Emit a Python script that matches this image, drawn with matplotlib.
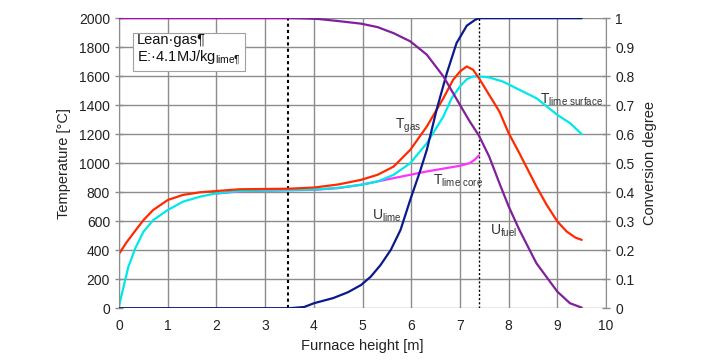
import matplotlib.pyplot as plt

plt.rcParams['font.family'] = ['Liberation Sans', 'DejaVu Sans']
plt.rcParams['lines.solid_joinstyle'] = 'round'
plt.rcParams['lines.solid_capstyle'] = 'round'

# furnace height [m] and temperatures [degC]
gas_x = [0, 0.16, 0.33, 0.5, 0.7, 1.0, 1.31, 1.66, 2.0, 2.48, 3.0, 3.5, 4.0, 4.5, 4.97,
         5.31, 5.64, 5.98, 6.32, 6.66, 6.86, 7.0, 7.14, 7.27, 7.39, 7.6, 7.81, 8.0, 8.22,
         8.57, 8.78, 9.0, 9.19, 9.37, 9.5]
gas_T = [376, 457, 533, 607, 677, 746, 781, 799, 808, 820, 822, 824, 832, 853, 885,
         920, 977, 1092, 1253, 1448, 1575, 1632, 1667, 1644, 1586, 1471, 1356, 1207, 1069,
         839, 713, 598, 529, 487, 471]

surf_x = [0, 0.09, 0.19, 0.33, 0.5, 0.7, 1.0, 1.31, 1.66, 2.0, 2.48, 3.0, 3.5, 4.0, 4.5,
          4.97, 5.31, 5.64, 5.98, 6.32, 6.66, 6.83, 7.0, 7.14, 7.27, 7.39, 7.6, 7.88, 8.22,
          8.57, 9.0, 9.26, 9.5]
surf_T = [15, 145, 284, 411, 527, 607, 677, 734, 769, 792, 808, 812, 815, 818, 830,
          851, 874, 920, 1000, 1138, 1322, 1448, 1529, 1579, 1598, 1598, 1591, 1563, 1506,
          1448, 1333, 1276, 1200]

core_x = [2.0, 2.48, 3.0, 3.5, 4.0, 4.5, 4.97, 5.64, 6.32, 7.0, 7.2, 7.3, 7.39]
core_T = [790, 806, 810, 813, 816, 828, 851, 897, 943, 982, 1000, 1023, 1053]

# conversion degrees [-]
ulime_x = [0, 3.5, 3.8, 4.0, 4.4, 4.7, 4.97, 5.17, 5.37, 5.58, 5.78, 5.98, 6.19, 6.32,
           6.52, 6.73, 6.93, 7.14, 7.31, 7.39, 9.5]
ulime_U = [0, 0, 0.004, 0.017, 0.035, 0.055, 0.08, 0.109, 0.149, 0.201, 0.27, 0.374, 0.477,
           0.546, 0.684, 0.81, 0.914, 0.974, 0.994, 1.0, 1.0]

ufuel_x = [0, 3.5, 3.8, 4.1, 4.5, 4.97, 5.31, 5.64, 5.98, 6.32, 6.66, 7.0, 7.2, 7.39, 7.6,
           7.81, 8.0, 8.22, 8.57, 9.0, 9.26, 9.5]
ufuel_U = [1.0, 1.0, 0.999, 0.997, 0.99, 0.981, 0.969, 0.948, 0.92, 0.874, 0.799, 0.701,
           0.644, 0.595, 0.523, 0.431, 0.351, 0.27, 0.155, 0.057, 0.017, 0.002]

dotted_x = [3.47, 7.39]

fig = plt.figure(figsize=(7.13, 3.63), dpi=100)
ax = fig.add_axes([0.167, 0.151, 0.683, 0.799])
ax2 = ax.twinx()

grid_c = '#8c8c8c'
ax.set_xlim(0, 10)
ax.set_ylim(0, 2000)
ax2.set_ylim(0, 1)
ax.set_xticks(range(0, 11))
ax.set_yticks(range(0, 2001, 200))
ax2.set_yticks([i / 10 for i in range(11)])
ax2.set_yticklabels(['0'] + ['%.1f' % (i / 10) for i in range(1, 10)] + ['1'])
ax.grid(True, color=grid_c, lw=1)
ax.set_axisbelow(True)

for a in (ax, ax2):
    for s in a.spines.values():
        s.set_visible(False)
    a.tick_params(colors=grid_c, labelcolor='#222222', labelsize=10, direction='inout',
                  length=6, width=1)
ax.spines['left'].set_visible(True)
ax.spines['left'].set_color(grid_c)
ax2.spines['right'].set_visible(True)
ax2.spines['right'].set_color(grid_c)
ax.tick_params(axis='x', length=0, pad=8)

for xd, lw in zip(dotted_x, [1.5, 1.0]):
    ax.axvline(xd, color='black', ls=(0, (1.5, 1.5)), lw=lw)

ax.plot(core_x, core_T, color='#ff33ff', lw=1.6)
ax.plot(surf_x, surf_T, color='#00e8e8', lw=1.6)
ax.plot(gas_x, gas_T, color='#ff2a00', lw=1.6)
ax2.plot(ulime_x, ulime_U, color='#0a1a8c', lw=1.6)
ax2.plot(ufuel_x, ufuel_U, color='#80209a', lw=1.6)
ax2.axhline(1.0, xmax=0.35, color='#c000c0', lw=1.2)

ax.set_xlabel('Furnace height [m]', fontsize=10.5, color='#222222', labelpad=4)
ax.set_ylabel('Temperature [°C]', fontsize=10.5, color='#222222', labelpad=6)
ax2.set_ylabel('Conversion degree', fontsize=10.5, color='#222222', labelpad=6)

lab = dict(fontsize=10, color='#333333')
ax.text(5.67, 1240, r'T$_{\mathregular{gas}}$', **lab)
ax.text(8.64, 1414, r'T$_{\mathregular{lime\ surface}}$', **lab)
ax.text(6.45, 850, r'T$_{\mathregular{lime\ core}}$', **lab)
ax.text(5.2, 608, r'U$_{\mathregular{lime}}$', **lab)
ax.text(7.62, 505, r'U$_{\mathregular{fuel}}$', **lab)
ax.text(0.37, 1895, 'Lean·gas¶\nE:·4.1MJ/kg$_{\\mathregular{lime¶}}$', fontsize=10.5,
        color='#111111', va='top', linespacing=1.15,
        bbox=dict(boxstyle='square,pad=0.25', fc='white', ec='#a0a0a0', lw=0.8))

fig.savefig('out.png', dpi=100)
